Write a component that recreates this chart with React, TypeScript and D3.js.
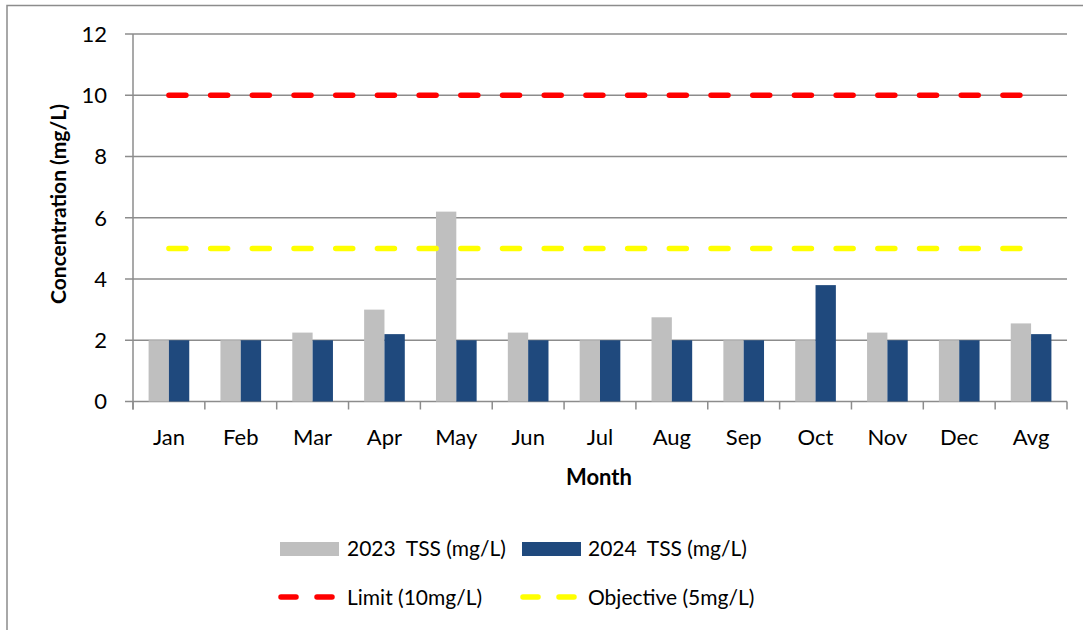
import React from "react";
import * as d3 from "d3";

const months = ["Jan", "Feb", "Mar", "Apr", "May", "Jun", "Jul", "Aug", "Sep", "Oct", "Nov", "Dec", "Avg"];
const tss2023 = [2, 2, 2.25, 3, 6.2, 2.25, 2, 2.75, 2, 2, 2.25, 2, 2.55];
const tss2024 = [2, 2, 2, 2.2, 2, 2, 2, 2, 2, 3.8, 2, 2, 2.2];
const limitValue = 10;
const objectiveValue = 5;
const yTicks = [0, 2, 4, 6, 8, 10, 12];
const seriesNames = ["2023  TSS (mg/L)", "2024  TSS (mg/L)", "Limit (10mg/L)", "Objective (5mg/L)"];

const W = 1083;
const H = 630;
const left = 133;
const right = 1067;
const top = 34;
const bottom = 401.5;
const FONT = "Lato, 'Open Sans', sans-serif";

export default function App() {
  const x = d3.scaleBand<string>().domain(months).range([left, right]).paddingInner(0).paddingOuter(0);
  const y = d3.scaleLinear().domain([0, 12]).range([bottom, top]);
  const bw = x.bandwidth();
  const barW = bw * 0.283;
  const grid = "#8c8c8c";
  const gray = "#bfbfbf";
  const blue = "#1f497d";
  const lineGen = d3.line<[number, number]>().x((d) => d[0]).y((d) => d[1]);
  const xs = months.map((m) => (x(m) as number) + bw / 2);
  const limitPath = lineGen(xs.map((cx) => [cx, y(limitValue)] as [number, number])) as string;
  const objPath = lineGen(xs.map((cx) => [cx, y(objectiveValue)] as [number, number])) as string;
  const dash = "17,24.7";

  return (
    <svg width={W} height={H} style={{ position: "absolute", left: 0, top: 0, background: "#fff" }}>
      <rect x={7} y={5.5} width={W + 10} height={H + 10} fill="#fff" stroke="#8c8c8c" strokeWidth={1.5} />
      {/* gridlines */}
      {yTicks.map((t) => (
        <line key={"g" + t} x1={left - 8} x2={right} y1={y(t)} y2={y(t)} stroke={grid} strokeWidth={1.5} />
      ))}
      {/* y axis */}
      <line x1={left} x2={left} y1={top} y2={bottom + 8} stroke={grid} strokeWidth={1.5} />
      {/* x ticks */}
      {months.concat(["end"]).map((m, i) => (
        <line key={"t" + i} x1={left + i * bw} x2={left + i * bw} y1={bottom} y2={bottom + 8} stroke={grid} strokeWidth={1.5} />
      ))}
      {/* bars */}
      {months.map((m, i) => {
        const cx = (x(m) as number) + bw / 2;
        return (
          <g key={"b" + m}>
            <rect x={cx - barW} y={y(tss2023[i])} width={barW} height={bottom - y(tss2023[i])} fill={gray} />
            <rect x={cx} y={y(tss2024[i])} width={barW} height={bottom - y(tss2024[i])} fill={blue} />
          </g>
        );
      })}
      {/* reference lines */}
      <path d={limitPath} fill="none" stroke="#ff0000" strokeWidth={5.5} strokeDasharray={dash} strokeLinecap="round" />
      <path d={objPath} fill="none" stroke="#ffff00" strokeWidth={5.5} strokeDasharray={dash} strokeLinecap="round" />
      {/* y tick labels */}
      {yTicks.map((t) => (
        <text key={"yl" + t} x={107} y={y(t)} dy="0.36em" textAnchor="end" fontFamily={FONT} fontSize={22} fill="#000">
          {t}
        </text>
      ))}
      {/* x labels */}
      {months.map((m) => (
        <text key={"xl" + m} x={(x(m) as number) + bw / 2} y={445} textAnchor="middle" fontFamily={FONT} fontSize={22} fill="#000">
          {m}
        </text>
      ))}
      <text x={599} y={485} textAnchor="middle" fontFamily={FONT} fontSize={22} fontWeight="bold" fill="#000">
        Month
      </text>
      <text transform="translate(66,204) rotate(-90)" textAnchor="middle" fontFamily={FONT} fontSize={21} fontWeight="bold" fill="#000">
        Concentration (mg/L)
      </text>
      {/* legend */}
      <rect x={280} y={542} width={59} height={14} fill={gray} />
      <text x={347} y={556} fontFamily={FONT} fontSize={21} fill="#000" style={{ whiteSpace: "pre" }}>{seriesNames[0]}</text>
      <rect x={522} y={542} width={59} height={14} fill={blue} />
      <text x={588} y={556} fontFamily={FONT} fontSize={21} fill="#000" style={{ whiteSpace: "pre" }}>{seriesNames[1]}</text>
      <line x1={281} x2={336} y1={597} y2={597} stroke="#ff0000" strokeWidth={5.5} strokeLinecap="round" strokeDasharray="15,21" />
      <text x={347} y={605} fontFamily={FONT} fontSize={21} fill="#000">{seriesNames[2]}</text>
      <line x1={523} x2={578} y1={597} y2={597} stroke="#ffff00" strokeWidth={5.5} strokeLinecap="round" strokeDasharray="15,21" />
      <text x={588} y={605} fontFamily={FONT} fontSize={21} fill="#000">{seriesNames[3]}</text>
    </svg>
  );
}
